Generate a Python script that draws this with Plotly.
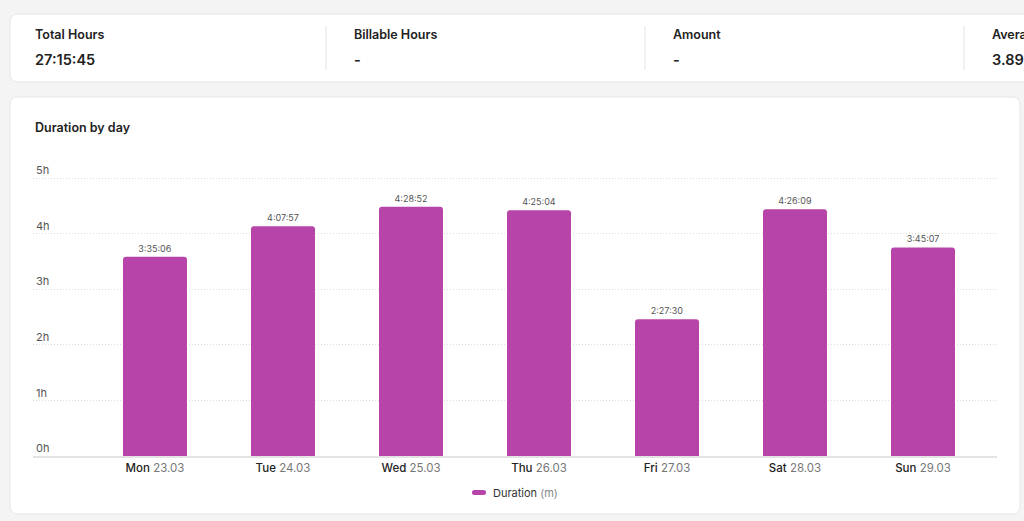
import plotly.graph_objects as go

# summary cards
card_titles = ["Total Hours", "Billable Hours", "Amount", "Average Daily Hours"]
card_values = ["27:15:45", "-", "-", "3.89"]

# chart data
days = ["Mon", "Tue", "Wed", "Thu", "Fri", "Sat", "Sun"]
dates = ["23.03", "24.03", "25.03", "26.03", "27.03", "28.03", "29.03"]
durations = ["3:35:06", "4:07:57", "4:28:52", "4:25:04", "2:27:30", "4:26:09", "3:45:07"]
y_ticks = [0, 1, 2, 3, 4, 5]
y_tick_labels = ["0h", "1h", "2h", "3h", "4h", "5h"]


def to_hours(s):
    h, m, sec = [int(p) for p in s.split(":")]
    return h + m / 60 + sec / 3600


hours = [to_hours(d) for d in durations]
cats = [d + " " + dt for d, dt in zip(days, dates)]
tick_text = ["<span style='font-weight:500'>%s</span> <span style='color:#777'>%s</span>" % (d, dt)
             for d, dt in zip(days, dates)]

W, H = 1024, 521
ML, MR, MT, MB = 33, 27, 160, 65
PW, PH = W - ML - MR, H - MT - MB
FONT = "Inter, Noto Sans, sans-serif"
BAR = "#b744a8"


# pixel -> paper helpers for the page decoration
def px(x):
    return (x - ML) / PW


def py(y):
    return (H - MB - y) / PH


def rounded_rect(x0, y0, x1, y1, r):
    return ("M %f,%f L %f,%f Q %f,%f %f,%f L %f,%f Q %f,%f %f,%f L %f,%f Q %f,%f %f,%f "
            "L %f,%f Q %f,%f %f,%f Z" % (
                px(x0 + r), py(y0), px(x1 - r), py(y0), px(x1), py(y0), px(x1), py(y0 + r),
                px(x1), py(y1 - r), px(x1), py(y1), px(x1 - r), py(y1),
                px(x0 + r), py(y1), px(x0), py(y1), px(x0), py(y1 - r),
                px(x0), py(y0 + r), px(x0), py(y0), px(x0 + r), py(y0)))


fig = go.Figure()
fig.add_trace(go.Bar(
    x=cats,
    y=hours,
    text=durations,
    textposition="outside",
    textfont=dict(size=9, color="#555", family=FONT),
    cliponaxis=False,
    width=0.5,
    marker=dict(color=BAR, cornerradius=3, line=dict(width=0)),
    name="Duration (m)",
    showlegend=False,
))

shapes = []
# cards
shapes.append(dict(type="path", xref="paper", yref="paper", layer="below",
                   path=rounded_rect(10, 14, 1040, 82, 8),
                   fillcolor="white", line=dict(color="#e6e6e6", width=1)))
shapes.append(dict(type="path", xref="paper", yref="paper", layer="below",
                   path=rounded_rect(10, 97, 1020, 514, 8),
                   fillcolor="white", line=dict(color="#e6e6e6", width=1)))
# separators in the summary card
for sx in [326, 645, 964]:
    shapes.append(dict(type="line", xref="paper", yref="paper",
                       x0=px(sx), x1=px(sx), y0=py(26), y1=py(70),
                       line=dict(color="#e3e3e3", width=1)))
# legend pill
shapes.append(dict(type="path", xref="paper", yref="paper",
                   path=rounded_rect(472, 490, 486, 495, 2.5),
                   fillcolor=BAR, line=dict(width=0)))

annotations = []
card_x = [33, 352, 671, 990]
for cx, t, v in zip(card_x, card_titles, card_values):
    annotations.append(dict(text="<span style='font-weight:600'>%s</span>" % t,
                            x=px(cx), y=py(35), xref="paper", yref="paper",
                            xanchor="left", yanchor="middle", showarrow=False,
                            font=dict(size=12.5, color="#222", family=FONT)))
    annotations.append(dict(text="<span style='font-weight:600'>%s</span>" % v,
                            x=px(cx), y=py(59), xref="paper", yref="paper",
                            xanchor="left", yanchor="middle", showarrow=False,
                            font=dict(size=14.5, color="#222", family=FONT)))
annotations.append(dict(text="<span style='font-weight:600'>Duration by day</span>",
                        x=px(33), y=py(127), xref="paper", yref="paper",
                        xanchor="left", yanchor="middle", showarrow=False,
                        font=dict(size=12.5, color="#222", family=FONT)))
annotations.append(dict(text="Duration <span style='color:#888'>(m)</span>",
                        x=px(491), y=py(493), xref="paper", yref="paper",
                        xanchor="left", yanchor="middle", showarrow=False,
                        font=dict(size=11, color="#333", family=FONT)))

fig.update_layout(
    width=W,
    height=H,
    margin=dict(l=ML, r=MR, t=MT, b=MB),
    paper_bgcolor="#f4f4f4",
    plot_bgcolor="rgba(0,0,0,0)",
    font=dict(family=FONT),
    bargap=0.5,
    shapes=shapes,
    annotations=annotations,
    xaxis=dict(
        range=[-0.953, 6.578],
        tickvals=cats,
        ticktext=tick_text,
        tickfont=dict(size=11.5, color="#222"),
        showgrid=False,
        showline=True,
        linecolor="#e3e3e3",
        linewidth=2,
        ticks="",
        fixedrange=True,
    ),
    yaxis=dict(
        range=[0, PH / 55.6],
        tickvals=y_ticks,
        ticktext=y_tick_labels,
        ticklabelposition="inside top",
        tickfont=dict(size=11, color="#555"),
        showgrid=True,
        gridcolor="#dcdcdc",
        griddash="1px,2px",
        gridwidth=1,
        zeroline=False,
        ticks="",
        fixedrange=True,
    ),
)

# page has no body margin in the reference
fig.write_html("out.html", config={"displayModeBar": False},
               post_script="document.body.style.margin='0';document.body.style.background='#f4f4f4';")
